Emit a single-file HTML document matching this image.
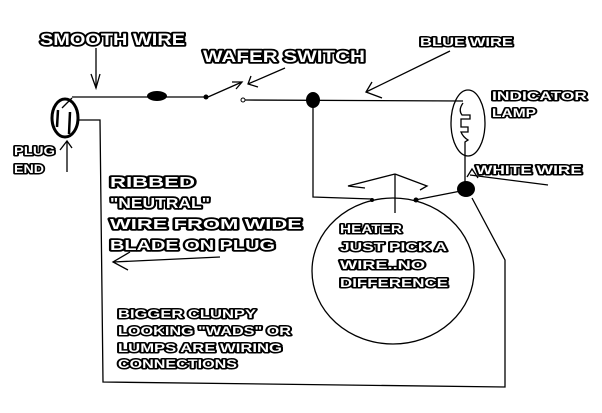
<!DOCTYPE html>
<html><head><style>
html,body{margin:0;padding:0;background:#fff;}
svg{display:block;}
.t{font-family:"Liberation Sans",sans-serif;font-weight:bold;fill:#fff;stroke:#000;stroke-width:3.6;paint-order:stroke;stroke-linejoin:round;}
.s{font-family:"Liberation Sans",sans-serif;font-weight:bold;fill:#fff;stroke:#000;stroke-width:3;paint-order:stroke;stroke-linejoin:round;}
</style></head><body>
<svg width="602" height="413" viewBox="0 0 602 413" xmlns="http://www.w3.org/2000/svg">
<g fill="none" stroke="#000" stroke-width="1.3">
<ellipse cx="65" cy="118" rx="13" ry="19" stroke-width="3"/>
<line x1="58" y1="110" x2="57" y2="127" stroke-width="2.5"/>
<line x1="70" y1="112" x2="69" y2="134" stroke-width="2.5"/>
<line x1="62" y1="108" x2="72" y2="98"/>
<line x1="72" y1="97" x2="207" y2="97"/>
<line x1="245" y1="100" x2="463" y2="101"/>
<line x1="96" y1="48" x2="96" y2="88"/>
<polyline points="91,74 96,88 100,74"/>
<line x1="208" y1="97" x2="242" y2="82"/>
<polyline points="232,82 242,82 236,89"/>
<line x1="285" y1="68" x2="248" y2="84"/>
<polyline points="251,76 248,84 258,87"/>
<line x1="450" y1="51" x2="366" y2="92"/>
<polyline points="372,82 366,92 382,98"/>
<line x1="67" y1="172" x2="67" y2="141"/>
<polyline points="60,150 67,141 72,148"/>
<polyline points="79,120 100,120 103,382 505,387 505,260 472,198"/>
<ellipse cx="468" cy="123" rx="17" ry="33"/>
<path d="M463,103 Q458,110 462,115 L470,115 L470,119 L461,119 L461,127 L468,127 L468,132 L461,132 Q463,137 468,140 L465,142 L465,155"/>
<line x1="465" y1="155" x2="465" y2="185"/>
<line x1="548" y1="185" x2="470" y2="175"/>
<polyline points="467,177 472,169 478,178"/>
<polyline points="313,100 313,197 372,199"/>
<line x1="466" y1="190" x2="415" y2="200"/>
<ellipse cx="393" cy="271" rx="81" ry="73"/>
<line x1="395" y1="213" x2="395" y2="174"/>
<polyline points="395,174 348,186 365,188"/>
<polyline points="395,174 427,186 420,190"/>
<line x1="220" y1="257" x2="113" y2="262"/>
<polyline points="130,252 113,262 128,270"/>
</g>
<g fill="#000">
<ellipse cx="157" cy="96" rx="10" ry="5"/>
<circle cx="206" cy="97" r="2.5"/>
<circle cx="243" cy="100" r="2" fill="none" stroke="#000"/>
<ellipse cx="313" cy="100" rx="7" ry="8"/>
<ellipse cx="466" cy="189" rx="9" ry="8"/>
<circle cx="372" cy="200" r="2"/>
<circle cx="416" cy="200" r="2.5"/>
</g>
<g class="t">
<text x="40" y="45" font-size="17" textLength="145" lengthAdjust="spacingAndGlyphs">SMOOTH WIRE</text>
<text x="203" y="62" font-size="17" textLength="162" lengthAdjust="spacingAndGlyphs">WAFER SWITCH</text>
<text x="110" y="187" font-size="15" textLength="85" lengthAdjust="spacingAndGlyphs">RIBBED</text>
<text x="110" y="208" font-size="15" textLength="100" lengthAdjust="spacingAndGlyphs">"NEUTRAL"</text>
<text x="110" y="229" font-size="15" textLength="192" lengthAdjust="spacingAndGlyphs">WIRE FROM WIDE</text>
<text x="110" y="250" font-size="15" textLength="165" lengthAdjust="spacingAndGlyphs">BLADE ON PLUG</text>
</g>
<g class="s">
<text x="420" y="46" font-size="12" textLength="93" lengthAdjust="spacingAndGlyphs">BLUE WIRE</text>
<text x="492" y="100" font-size="12" textLength="95" lengthAdjust="spacingAndGlyphs">INDICATOR</text>
<text x="492" y="117" font-size="12" textLength="44" lengthAdjust="spacingAndGlyphs">LAMP</text>
<text x="476" y="174" font-size="12" textLength="106" lengthAdjust="spacingAndGlyphs">WHITE WIRE</text>
<text x="14" y="155" font-size="12" textLength="41" lengthAdjust="spacingAndGlyphs">PLUG</text>
<text x="14" y="173" font-size="12" textLength="30" lengthAdjust="spacingAndGlyphs">END</text>
<text x="340" y="233" font-size="12" textLength="62" lengthAdjust="spacingAndGlyphs">HEATER</text>
<text x="340" y="251" font-size="12" textLength="107" lengthAdjust="spacingAndGlyphs">JUST PICK A</text>
<text x="340" y="269" font-size="12" textLength="85" lengthAdjust="spacingAndGlyphs">WIRE..NO</text>
<text x="340" y="287" font-size="12" textLength="108" lengthAdjust="spacingAndGlyphs">DIFFERENCE</text>
<text x="118" y="318" font-size="12" textLength="138" lengthAdjust="spacingAndGlyphs">BIGGER CLUNPY</text>
<text x="118" y="335" font-size="12" textLength="173" lengthAdjust="spacingAndGlyphs">LOOKING "WADS" OR</text>
<text x="118" y="352" font-size="12" textLength="164" lengthAdjust="spacingAndGlyphs">LUMPS ARE WIRING</text>
<text x="118" y="368" font-size="12" textLength="119" lengthAdjust="spacingAndGlyphs">CONNECTIONS</text>
</g>
</svg>
</body></html>
